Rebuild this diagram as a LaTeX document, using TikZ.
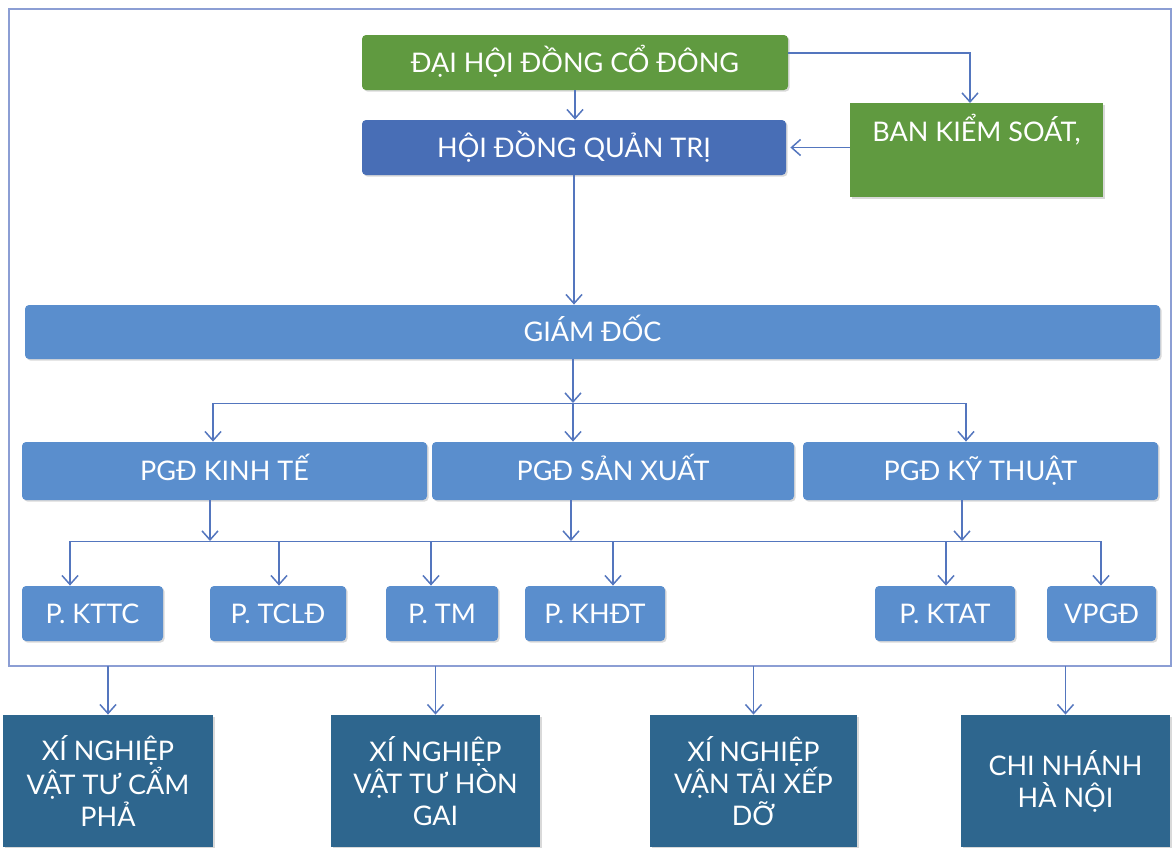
\documentclass[tikz,border=0pt]{standalone}
\usepackage{fontspec}
\setmainfont{Lato}
\usepackage{xcolor}
\usepackage{tikz}
\usetikzlibrary{positioning, arrows.meta, shadows, calc}

\definecolor{dhGreen}{RGB}{96,154,64}
\definecolor{qtBlue}{RGB}{72,110,182}
\definecolor{pgBlue}{RGB}{90,142,205}
\definecolor{xnBlue}{RGB}{46,102,142}
\definecolor{lineBlue}{RGB}{84,118,190}
\definecolor{frameBlue}{RGB}{140,158,212}

\def\px{0.5pt}

\tikzset{
    basebox/.style={rectangle, inner sep=0pt, text=white, align=center,
        font=\fontsize{13.5}{16}\selectfont,
        drop shadow={shadow xshift=0.8pt, shadow yshift=-0.8pt, opacity=0.3}},
    orgbox/.style={basebox, rounded corners=2pt, text height=9.7pt, text depth=0pt},
    topbox/.style={orgbox, fill=dhGreen},
    boardbox/.style={orgbox, fill=qtBlue},
    deptbox/.style={orgbox, fill=pgBlue},
    unitbox/.style={basebox, fill=xnBlue},
    link/.style={draw=lineBlue, line width=0.75pt, -{Straight Barb[length=4.5pt,width=8pt]}},
    bus/.style={draw=lineBlue, line width=0.5pt},
}

\begin{document}
\begin{tikzpicture}[x=\px, y=-\px]
    \useasboundingbox (0,0) rectangle (1174,847);

    % frame
    \draw[frameBlue, line width=0.6pt] (9,9) rectangle (1171,666);
    \coordinate (fb) at (0,666);

    % top
    \node[topbox, minimum width=426*\px, minimum height=55*\px] (dhcd) at (575,62.5)
        {ĐẠI HỘI ĐỒNG CỔ ĐÔNG};
    \node[boardbox, minimum width=424*\px, minimum height=55*\px] (hdqt) at (574,147.5)
        {HỘI ĐỒNG QUẢN TRỊ};
    \node[basebox, fill=dhGreen, minimum width=253*\px, anchor=north,
          text height=19pt, text depth=28pt] (bks) at (976.5,103)
        {BAN KIỂM SOÁT,};

    % director
    \node[deptbox, minimum width=1135*\px, minimum height=54*\px] (gd) at (592.5,332)
        {GIÁM ĐỐC};

    % deputies
    \foreach \nd/\cx/\w/\txt in {
        pgdkt/224.5/405/PGĐ KINH TẾ,
        pgdsx/613/362/PGĐ SẢN XUẤT,
        pgdkth/980.5/355/PGĐ KỸ THUẬT}
    {
        \node[deptbox, minimum width=\w*\px, minimum height=58*\px] (\nd) at (\cx,471) {\txt};
    }

    % departments
    \foreach \nd/\cx/\w/\txt in {
        pkttc/92.5/141/P. KTTC,
        ptcld/278/136/P. TCLĐ,
        ptm/442/112/P. TM,
        pkhdt/595/140/P. KHĐT,
        pktat/945/140/P. KTAT,
        vpgd/1101.5/109/VPGĐ}
    {
        \node[deptbox, minimum width=\w*\px, minimum height=55*\px] (\nd) at (\cx,613.5) {\txt};
    }

    % units
    \node[unitbox, minimum width=210*\px, minimum height=132*\px] (xn1) at (108,781)
        {XÍ NGHIỆP\\VẬT TƯ CẨM\\PHẢ};
    \node[unitbox, minimum width=209*\px, minimum height=132*\px] (xn2) at (435.5,781)
        {XÍ NGHIỆP\\VẬT TƯ HÒN\\GAI};
    \node[unitbox, minimum width=207*\px, minimum height=132*\px] (xn3) at (753.5,781)
        {XÍ NGHIỆP\\VẬN TẢI XẾP\\DỠ};
    \node[unitbox, minimum width=209*\px, minimum height=132*\px] (xn4) at (1065.5,781)
        {CHI NHÁNH\\HÀ NỘI};

    % top links
    \draw[link] ([yshift=4.75pt]dhcd.east) -| ([xshift=-3.25pt]bks.north);
    \draw[link] (dhcd.south) -- (dhcd.south |- hdqt.north);
    \draw[link] (bks.west |- hdqt.east) -- ([xshift=2pt]hdqt.east);
    \draw[link] (hdqt.south) -- (hdqt.south |- gd.north);

    % director to deputies
    \coordinate (jg) at (573,403);
    \draw[link] (gd.south -| jg) -- (jg);
    \coordinate (k1) at (213,403);
    \coordinate (k2) at (966,403);
    \draw[bus] (k1) -- (k2);
    \foreach \k/\nd in {k1/pgdkt, jg/pgdsx, k2/pgdkth}
    {
        \draw[link] (\k) -- (\k |- \nd.north);
    }

    % deputies to departments
    \coordinate (b1) at (70,541);
    \coordinate (b2) at (1101,541);
    \draw[bus] (b1) -- (b2);
    \foreach \xx/\nd in {210/pgdkt, 571/pgdsx, 962/pgdkth}
    {
        \draw[link] (\xx,0 |- \nd.south) -- (\xx,541);
    }
    \foreach \xx/\nd in {70/pkttc, 279/ptcld, 431/ptm, 613/pkhdt, 946/pktat, 1101/vpgd}
    {
        \draw[link] (\xx,541) -- (\xx,0 |- \nd.north);
    }

    % frame to units
    \foreach \nd in {xn1, xn2, xn3, xn4}
    {
        \draw[link] (\nd.north |- fb) -- (\nd.north);
    }
\end{tikzpicture}
\end{document}
